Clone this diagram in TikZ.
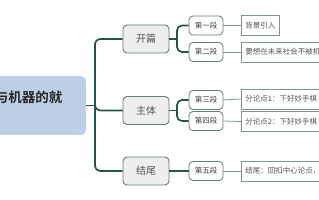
\documentclass[tikz,border=0pt]{standalone}
\usepackage{fontspec}
\usepackage{xcolor}
\usetikzlibrary{positioning}
\newfontfamily\cjk[BoldFont={Noto Sans CJK SC Bold}]{Noto Sans CJK SC}
\definecolor{rootblue}{HTML}{BCCFE5}
\definecolor{trunkgreen}{HTML}{24534A}
\definecolor{boxline}{HTML}{5E7E76}
\definecolor{leafline}{HTML}{7D9690}
\definecolor{lightfill}{HTML}{EEEEEE}
\definecolor{textgrey}{HTML}{555555}

\begin{document}
\begin{tikzpicture}[x=1pt,y=-1pt,
    rootbox/.style={rectangle,rounded corners=5pt,fill=rootblue,inner sep=0pt,
      minimum width=126pt,minimum height=59pt,text width=79pt,align=right,
      font=\cjk\bfseries\fontsize{13.5}{17}\selectfont,text=black!85},
    partbox/.style={rectangle,rounded corners=4pt,draw=boxline,line width=0.9pt,fill=lightfill,
      minimum width=46pt,minimum height=28pt,inner sep=0pt,
      font=\cjk\fontsize{10}{12}\selectfont,text=textgrey},
    parabox/.style={rectangle,rounded corners=4pt,draw=boxline,line width=0.8pt,fill=white,
      minimum width=34pt,minimum height=19pt,inner sep=0pt,
      font=\cjk\fontsize{7.5}{9}\selectfont,text=black!75},
    leafbox/.style={rectangle,draw=leafline,line width=0.8pt,fill=white,anchor=west,
      minimum height=20pt,inner xsep=4pt,inner ysep=0pt,
      font=\cjk\fontsize{7.5}{9}\selectfont,text=textgrey},
    trunk/.style={draw=trunkgreen,line width=1.7pt,rounded corners=5pt},
    twig/.style={draw=leafline,line width=0.8pt}]
    \useasboundingbox (0,0) rectangle (319,200);
    \clip (0,0) rectangle (319,200);

    % root and first level
    \node[rootbox] (root) at (23,105.5) {与机器的就\\\mbox{}};
    \node[partbox] (kaipian) at (146,39) {开篇};
    \node[partbox] (zhuti) at (146,110.5) {主体};
    \node[partbox] (jiewei) at (146,171) {结尾};

    % second level
    \node[parabox] (duan1) at (206,25.5) {第一段};
    \node[parabox] (duan2) at (206,52) {第二段};
    \node[parabox] (duan3) at (206,100) {第三段};
    \node[parabox] (duan4) at (206,121) {第四段};
    \node[parabox] (duan5) at (206,171) {第五段};

    % leaves
    \node[leafbox] (leaf1) at (241,25.5) {背景引入};
    \node[leafbox,minimum width=130pt,align=left,text width=122pt] (leaf2) at (241,52) {要想在未来社会不被机};
    \node[leafbox,minimum width=130pt,align=left,text width=122pt] (leaf3) at (241,99) {分论点1：下好妙手棋};
    \node[leafbox,minimum width=130pt,align=left,text width=122pt] (leaf4) at (241,121.5) {分论点2：下好妙手棋};
    \node[leafbox,minimum width=130pt,align=left,text width=122pt] (leaf5) at (241,171) {结尾：回扣中心论点，};

    % forks
    \coordinate (rootfork) at (95,105.5);
    \coordinate (kpfork) at (177,39);
    \coordinate (ztfork) at (177,110.5);

    \draw[trunk] (root.east) -- (rootfork);
    \draw[trunk] (rootfork) |- (kaipian.west);
    \draw[trunk] (rootfork) |- (zhuti.west);
    \draw[trunk] (rootfork) |- (jiewei.west);

    \draw[trunk] (kaipian.east) -- (kpfork);
    \draw[trunk] (kpfork) |- (duan1.west);
    \draw[trunk] (kpfork) |- (duan2.west);
    \draw[trunk] (zhuti.east) -- (ztfork);
    \draw[trunk] (ztfork) |- (duan3.west);
    \draw[trunk] (ztfork) |- (duan4.west);
    \draw[trunk] (jiewei.east) -- (duan5.west);

    \draw[twig] (duan1.east) -- (leaf1.west);
    \draw[twig] (duan2.east) -- (leaf2.west);
    \draw[twig] (duan3.east) -- (leaf3.west);
    \draw[twig] (duan4.east) -- (leaf4.west);
    \draw[twig] (duan5.east) -- (leaf5.west);
  \end{tikzpicture}
\end{document}
